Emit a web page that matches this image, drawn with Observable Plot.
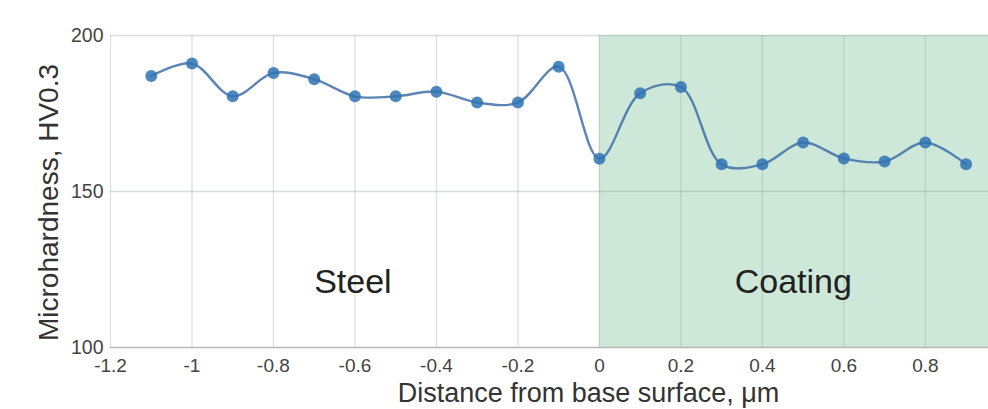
<!DOCTYPE html>
<html>
<head>
<meta charset="utf-8">
<script src="https://cdn.jsdelivr.net/npm/d3@7"></script>
<script src="https://cdn.jsdelivr.net/npm/@observablehq/plot@0.6"></script>
<style>
  html, body { margin: 0; padding: 0; background: #fff; }
  #chart svg { display: block; }
</style>
</head>
<body>
<div id="chart"></div>
<script>
const distance = [-1.1, -1.0, -0.9, -0.8, -0.7, -0.6, -0.5, -0.4, -0.3, -0.2, -0.1, 0.0, 0.1, 0.2, 0.3, 0.4, 0.5, 0.6, 0.7, 0.8, 0.9];
const hardness = [187, 191, 180.5, 188, 186, 180.5, 180.5, 182, 178.5, 178.5, 190, 160.5, 181.5, 183.5, 158.7, 158.7, 165.7, 160.6, 159.6, 165.7, 158.7];
const xTicks = [-1.2, -1.0, -0.8, -0.6, -0.4, -0.2, 0, 0.2, 0.4, 0.6, 0.8];
const xTickLabels = ["-1.2", "-1", "-0.8", "-0.6", "-0.4", "-0.2", "0", "0.2", "0.4", "0.6", "0.8"];
const yTicks = [100, 150, 200];
const regionNames = ["Steel", "Coating"];
const regionX = [-0.605, 0.476];
const regionY = [120.8, 120.8];
const coatingStart = [0];
const coatingEnd = [0.955];

const points = distance.map((d, i) => ({x: d, y: hardness[i]}));
const regions = regionNames.map((n, i) => ({name: n, x: regionX[i], y: regionY[i]}));

const chart = Plot.plot({
  width: 988,
  height: 409,
  marginLeft: 110,
  marginRight: 0,
  marginTop: 35,
  marginBottom: 62,
  style: {fontFamily: "'Liberation Sans', Arial, sans-serif", background: "#fff", overflow: "visible"},
  x: {domain: [-1.2, 0.955]},
  y: {domain: [100, 200]},
  marks: [
    Plot.rectX([0], {x1: coatingStart[0], x2: coatingEnd[0], y1: 100, y2: 200, fill: "#cde8d8"}),
    Plot.ruleX(xTicks, {stroke: "#8f9c96", strokeOpacity: 0.3, strokeWidth: 1.3}),
    Plot.ruleY([150, 200], {stroke: "#8f9c96", strokeOpacity: 0.35, strokeWidth: 1.3}),
    Plot.ruleY([100], {stroke: "#b4b9b6", strokeWidth: 1.6}),
    Plot.axisX({ticks: xTicks, tickSize: 0, tickPadding: 11, tickFormat: (d) => xTickLabels[xTicks.indexOf(d)], fontSize: 19, color: "#444", label: null}),
    Plot.axisY({ticks: yTicks, tickSize: 0, tickPadding: 7, fontSize: 19.5, color: "#444", label: null}),
    Plot.text(regions, {x: "x", y: "y", text: "name", fontSize: 34, fill: "#222"}),
    Plot.line(points, {x: "x", y: "y", curve: "catmull-rom", stroke: "#3f6fa8", strokeOpacity: 0.85, strokeWidth: 2.4}),
    Plot.dot(points, {x: "x", y: "y", r: 6, fill: "#2f73b3", fillOpacity: 0.85}),
    Plot.text(["Microhardness, HV0.3"], {frameAnchor: "left", textAnchor: "middle", lineAnchor: "middle", rotate: -90, dx: -61, dy: 11, text: (d) => d, fontSize: 28, fill: "#333"}),
    Plot.text(["Distance from base surface, μm"], {frameAnchor: "bottom", lineAnchor: "middle", dx: 39, dy: 46, text: (d) => d, fontSize: 27, fill: "#333"})
  ]
});
document.getElementById("chart").appendChild(chart);
</script>
</body>
</html>
